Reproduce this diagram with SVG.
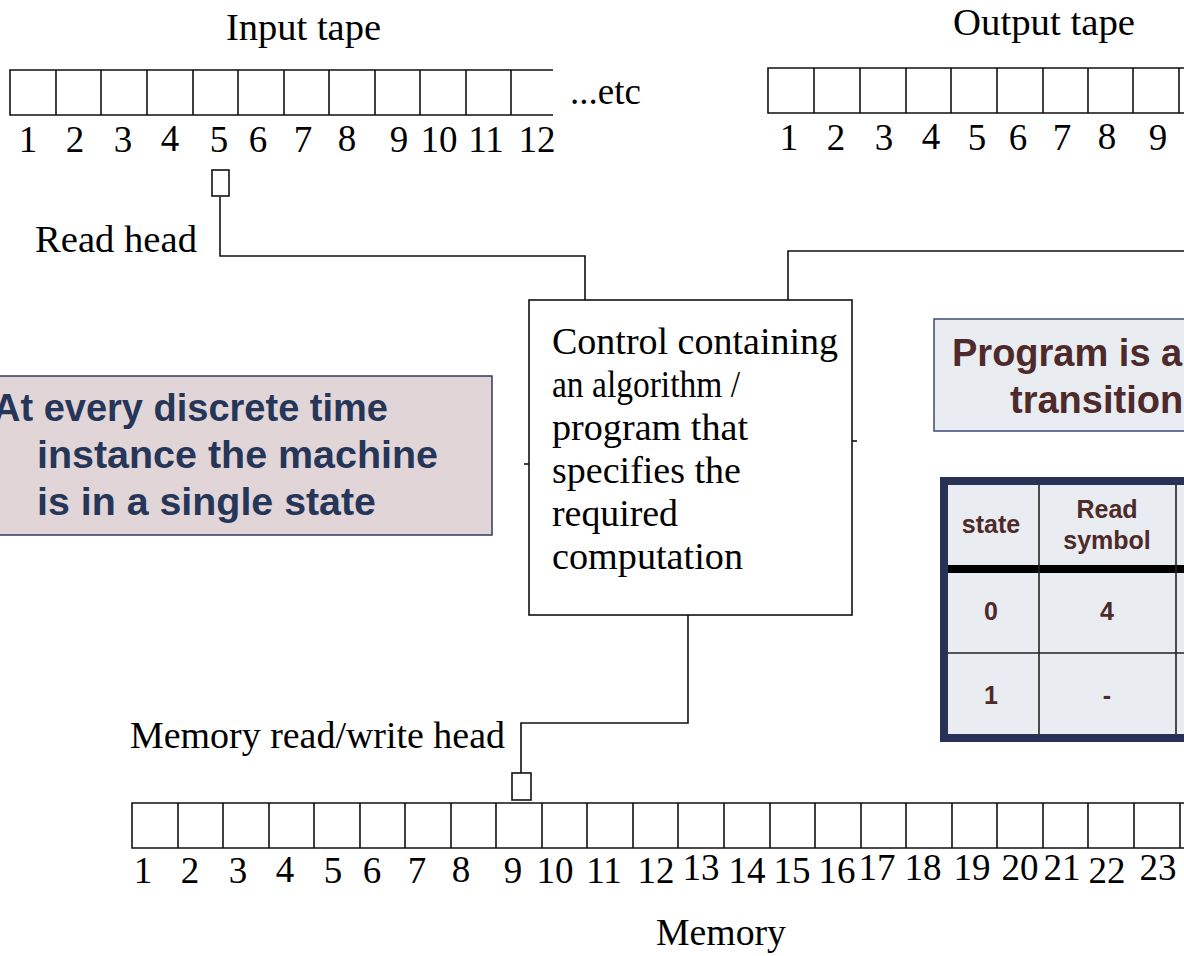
<svg xmlns="http://www.w3.org/2000/svg" width="1184" height="956" viewBox="0 0 1184 956">
  <style>
    .tape { fill: none; stroke: #111; stroke-width: 1.6; }
    .wire { fill: none; stroke: #111; stroke-width: 1.6; }
    .serif { font-family: "Liberation Serif", "Times New Roman", serif; fill: #000; }
    .lbl { font-size: 37px; }
    .num { font-size: 37px; text-anchor: middle; }
    .ctl { font-size: 37px; }
    .note { font-family: "Liberation Sans", Arial, sans-serif; font-weight: bold; font-size: 38px; }
    .navy { fill: #263659; }
    .brown { fill: #4e2a2a; }
    .cell { font-family: "Liberation Sans", Arial, sans-serif; font-weight: bold; font-size: 25px; fill: #4e2a2a; text-anchor: middle; }
  </style>

  <rect width="1184" height="956" fill="#ffffff"/>

  <!-- connectors between heads and the control unit -->
  <g id="connectors">
    <polyline class="wire" points="220,197 220,256 585,256 585,300"/>
    <polyline class="wire" points="788,300 788,251 1184,251"/>
    <polyline class="wire" points="688,615 688,723 521,723 521,773"/>
    <line class="wire" x1="524" y1="464" x2="529" y2="464"/>
    <line class="wire" x1="852" y1="441" x2="857" y2="441"/>
  </g>

  <!-- input tape -->
  <g id="input-tape">
    <text class="serif lbl" x="226" y="40" textLength="155" lengthAdjust="spacingAndGlyphs">Input tape</text>
    <path class="tape" d="M553,70 H10 V115 H553 M56,70 V115 M101,70 V115 M147,70 V115 M193,70 V115 M238,70 V115 M284,70 V115 M329,70 V115 M375,70 V115 M420,70 V115 M466,70 V115 M511,70 V115"/>
    <text class="serif lbl" x="570" y="104">...etc</text>
    <g class="serif num">
      <text x="28" y="152">1</text><text x="75" y="152">2</text><text x="123" y="152">3</text>
      <text x="170" y="151">4</text><text x="219" y="152">5</text><text x="258" y="152">6</text>
      <text x="303" y="152">7</text><text x="347" y="151">8</text><text x="399" y="152">9</text>
      <text x="439" y="152">10</text><text x="486" y="152">11</text><text x="537" y="152">12</text>
    </g>
  </g>

  <!-- output tape -->
  <g id="output-tape">
    <text class="serif lbl" x="953" y="35" textLength="182" lengthAdjust="spacingAndGlyphs">Output tape</text>
    <path class="tape" d="M1184,68 H768 V113 H1184 M814,68 V113 M860,68 V113 M906,68 V113 M951,68 V113 M997,68 V113 M1043,68 V113 M1088,68 V113 M1133,68 V113 M1179,68 V113"/>
    <g class="serif num">
      <text x="789" y="150">1</text><text x="836" y="150">2</text><text x="884" y="150">3</text>
      <text x="931" y="149">4</text><text x="977" y="150">5</text><text x="1018" y="150">6</text>
      <text x="1062" y="150">7</text><text x="1107" y="149">8</text><text x="1158" y="150">9</text>
    </g>
  </g>

  <!-- read head -->
  <g id="read-head">
    <rect class="tape" x="212" y="170" width="17" height="26"/>
    <text class="serif lbl" x="35" y="252" textLength="162" lengthAdjust="spacingAndGlyphs">Read head</text>
  </g>

  <!-- control unit -->
  <g id="control">
    <rect x="529" y="300" width="323" height="315" fill="#ffffff" stroke="#111" stroke-width="1.6"/>
    <g class="serif ctl">
      <text x="552" y="354" textLength="286" lengthAdjust="spacingAndGlyphs">Control containing</text>
      <text x="552" y="397" textLength="188" lengthAdjust="spacingAndGlyphs">an algorithm /</text>
      <text x="552" y="440" textLength="196" lengthAdjust="spacingAndGlyphs">program that</text>
      <text x="552" y="483" textLength="189" lengthAdjust="spacingAndGlyphs">specifies the</text>
      <text x="552" y="526" textLength="126" lengthAdjust="spacingAndGlyphs">required</text>
      <text x="552" y="569" textLength="191" lengthAdjust="spacingAndGlyphs">computation</text>
    </g>
  </g>

  <!-- single-state note -->
  <g id="state-note">
    <rect x="-10" y="376" width="502" height="159" fill="#e1d5d7" stroke="#2f3b5f" stroke-width="1.5"/>
    <g class="note navy">
      <text x="-7" y="421" textLength="395" lengthAdjust="spacingAndGlyphs">At every discrete time</text>
      <text x="37" y="468" textLength="401" lengthAdjust="spacingAndGlyphs">instance the machine</text>
      <text x="37" y="515" textLength="339" lengthAdjust="spacingAndGlyphs">is in a single state</text>
    </g>
  </g>

  <!-- program note -->
  <g id="program-note">
    <rect x="934" y="319" width="270" height="112" fill="#e9edf1" stroke="#3a4a72" stroke-width="1.5"/>
    <g class="note brown">
      <text x="952" y="366">Program is a</text>
      <text x="1010" y="413">transition</text>
    </g>
  </g>

  <!-- transition table -->
  <g id="transition-table">
    <rect x="944" y="481" width="260" height="257" fill="#e9ecf0" stroke="#283256" stroke-width="8"/>
    <rect x="948" y="565" width="256" height="8" fill="#000"/>
    <line x1="1039" y1="485" x2="1039" y2="734" stroke="#222" stroke-width="1.6"/>
    <line x1="1176" y1="485" x2="1176" y2="734" stroke="#222" stroke-width="1.6"/>
    <line x1="948" y1="653" x2="1204" y2="653" stroke="#222" stroke-width="1.6"/>
    <text class="cell" x="991" y="533">state</text>
    <text class="cell" x="1107" y="518">Read</text>
    <text class="cell" x="1107" y="549">symbol</text>
    <text class="cell" x="991" y="620">0</text>
    <text class="cell" x="1107" y="620">4</text>
    <text class="cell" x="991" y="704">1</text>
    <text class="cell" x="1107" y="704">-</text>
  </g>

  <!-- memory read/write head -->
  <g id="memory-head">
    <rect class="tape" x="512" y="773" width="19" height="27"/>
    <text class="serif lbl" x="130" y="748" textLength="375" lengthAdjust="spacingAndGlyphs">Memory read/write head</text>
  </g>

  <!-- memory tape -->
  <g id="memory">
    <path class="tape" d="M1184,803 H132 V848 H1184 M178,803 V848 M223,803 V848 M269,803 V848 M314,803 V848 M360,803 V848 M405,803 V848 M451,803 V848 M496,803 V848 M542,803 V848 M587,803 V848 M633,803 V848 M678,803 V848 M724,803 V848 M770,803 V848 M815,803 V848 M861,803 V848 M906,803 V848 M952,803 V848 M997,803 V848 M1043,803 V848 M1088,803 V848 M1134,803 V848 M1180,803 V848"/>
    <g class="serif num">
      <text x="143" y="883">1</text><text x="190" y="883">2</text><text x="238" y="883">3</text>
      <text x="285" y="882">4</text><text x="333" y="883">5</text><text x="372" y="883">6</text>
      <text x="417" y="883">7</text><text x="461" y="882">8</text><text x="513" y="883">9</text>
      <text x="555" y="883">10</text><text x="604" y="883">11</text><text x="656" y="883">12</text>
      <text x="701" y="880">13</text><text x="747" y="883">14</text><text x="792" y="883">15</text>
      <text x="837" y="883">16</text><text x="877" y="880">17</text><text x="923" y="880">18</text>
      <text x="972" y="880">19</text><text x="1020" y="880">20</text><text x="1062" y="880">21</text>
      <text x="1107" y="883">22</text><text x="1158" y="880">23</text>
    </g>
    <text class="serif lbl" x="656" y="945" textLength="130" lengthAdjust="spacingAndGlyphs">Memory</text>
  </g>
</svg>
